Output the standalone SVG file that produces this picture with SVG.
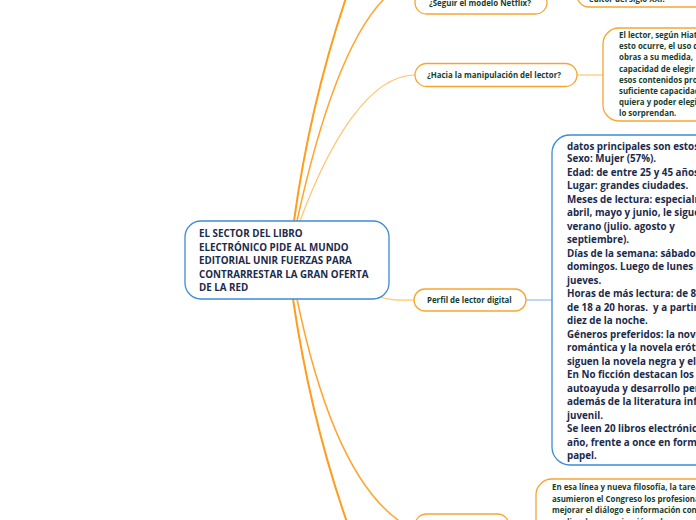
<svg xmlns="http://www.w3.org/2000/svg" width="696" height="520" viewBox="0 0 696 520">
<style>
.bg{fill:#ffffff}
.on{fill:#ffffff;stroke:#f7a530;stroke-width:1.3}
.bn{fill:#ffffff;stroke:#3d8bd6;stroke-width:1.3}
.tg{font-family:"Open Sans","Noto Sans",sans-serif;font-weight:700;fill:#173f30;font-size:7.9px}
.tb{font-family:"Open Sans","Noto Sans",sans-serif;font-weight:700;fill:#1b2b4b;font-size:9.8px}
.tc{font-family:"Open Sans","Noto Sans",sans-serif;font-weight:700;fill:#1b2b4b;font-size:9.8px}
.c1{fill:none;stroke:#ff9d1c;stroke-width:2}
.c2{fill:none;stroke:#ffa52e;stroke-width:1.5}
.c3{fill:none;stroke:#ffc46e;stroke-width:1.2}
.cb{fill:none;stroke:#9ec3f0;stroke-width:1.3}
</style>
<rect class="bg" x="0" y="0" width="696" height="520"/>
<g id="connectors">
<path class="c1" d="M294,221 C305,140 325,60 347,-5"/>
<path class="c2" d="M297,221 C318,125 345,40 383,0 S405,-6 415,-6"/>
<path class="c3" d="M300,221 C330,140 370,75 415,75"/>
<path class="c3" d="M378,296 C390,301 400,300 414,300"/>
<path class="c1" d="M293,299 C305,380 325,460 348,525"/>
<path class="c2" d="M297,299 C318,400 350,485 398,520 L406,526"/>
<path class="c3" d="M577,75 L603,75"/>
<path class="cb" d="M526,300 L552,300"/>
</g>
<g id="central">
<rect class="bn" x="185" y="221" width="204" height="78" rx="16"/>
<text class="tc" x="199" y="237">EL SECTOR DEL LIBRO</text>
<text class="tc" x="199" y="250.5">ELECTRÓNICO PIDE AL MUNDO</text>
<text class="tc" x="199" y="264">EDITORIAL UNIR FUERZAS PARA</text>
<text class="tc" x="199" y="277.5">CONTRARRESTAR LA GRAN OFERTA</text>
<text class="tc" x="199" y="291">DE LA RED</text>
</g>
<g id="netflix">
<rect class="on" x="415" y="-9" width="132" height="23" rx="11.5"/>
<text class="tg" x="429" y="6">¿Seguir el modelo Netflix?</text>
</g>
<g id="editor">
<rect class="on" x="577" y="-40" width="140" height="47" rx="12"/>
<text class="tg" x="589" y="1.5">editor del siglo XXI.</text>
</g>
<g id="hacia">
<rect class="on" x="415" y="63.5" width="162" height="23" rx="11.5"/>
<text class="tg" x="427" y="78">¿Hacia la manipulación del lector?</text>
</g>
<g id="hiatt">
<rect class="on" x="603" y="28" width="140" height="93" rx="16"/>
<text class="tg" x="619" y="38">El lector, según Hiatt</text>
<text class="tg" x="619" y="49">esto ocurre, el uso de</text>
<text class="tg" x="619" y="60">obras a su medida,</text>
<text class="tg" x="619" y="71.5">capacidad de elegir</text>
<text class="tg" x="619" y="82.5">esos contenidos pro</text>
<text class="tg" x="619" y="93.5">suficiente capacidad</text>
<text class="tg" x="619" y="105">quiera y poder elegir</text>
<text class="tg" x="619" y="116">lo sorprendan.</text>
</g>
<g id="perfil">
<rect class="on" x="414" y="289" width="112" height="22" rx="11"/>
<text class="tg" x="427" y="303">Perfil de lector digital</text>
</g>
<g id="datos">
<rect class="bn" x="552" y="135" width="170" height="330" rx="18"/>
<text class="tb" x="567" y="149.5">datos principales son estos</text>
<text class="tb" x="567" y="162">Sexo: Mujer (57%).</text>
<text class="tb" x="567" y="175.5">Edad: de entre 25 y 45 años</text>
<text class="tb" x="567" y="189">Lugar: grandes ciudades.</text>
<text class="tb" x="567" y="202.5">Meses de lectura: especialmente</text>
<text class="tb" x="567" y="216">abril, mayo y junio, le sigue</text>
<text class="tb" x="567" y="229.5">verano (julio. agosto y</text>
<text class="tb" x="567" y="243">septiembre).</text>
<text class="tb" x="567" y="256.5">Días de la semana: sábados y</text>
<text class="tb" x="567" y="270">domingos. Luego de lunes a</text>
<text class="tb" x="567" y="283.5">jueves.</text>
<text class="tb" x="567" y="297">Horas de más lectura: de 8</text>
<text class="tb" x="567" y="310.5" xml:space="preserve">de 18 a 20 horas.  y a partir</text>
<text class="tb" x="567" y="324">diez de la noche.</text>
<text class="tb" x="567" y="337.5">Géneros preferidos: la novela</text>
<text class="tb" x="567" y="351">romántica y la novela erótica</text>
<text class="tb" x="567" y="364.5">siguen la novela negra y el</text>
<text class="tb" x="567" y="378">En No ficción destacan los</text>
<text class="tb" x="567" y="391.5">autoayuda y desarrollo personal</text>
<text class="tb" x="567" y="405">además de la literatura infantil</text>
<text class="tb" x="567" y="418.5">juvenil.</text>
<text class="tb" x="567" y="432">Se leen 20 libros electrónicos</text>
<text class="tb" x="567" y="445.5">año, frente a once en formato</text>
<text class="tb" x="567" y="459">papel.</text>
</g>
<g id="linea">
<rect class="on" x="536" y="479" width="190" height="80" rx="16"/>
<text class="tg" x="552" y="490">En esa línea y nueva filosofía, la tarea</text>
<text class="tg" x="552" y="501.5">asumieron el Congreso los profesionales</text>
<text class="tg" x="552" y="513">mejorar el diálogo e información con</text>
<text class="tg" x="552" y="524.5">medios de comunicación y de manera</text>
</g>
<g id="bottom-node">
<rect class="on" x="415" y="514" width="94" height="23" rx="11.5"/>
</g>
</svg>
